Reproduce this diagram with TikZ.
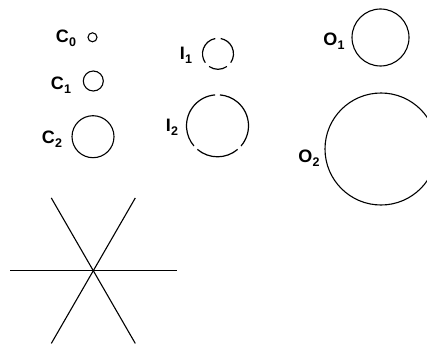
\documentclass[tikz,border=0pt]{standalone}
\usepackage{fontspec}
\setmainfont{Liberation Sans}
\usetikzlibrary{calc}
\begin{document}
\begin{tikzpicture}[x=1pt,y=1pt,
  ring/.style={draw,circle,inner sep=0pt,line width=1.1pt},
  lbl/.style={font=\bfseries\fontsize{18}{18}\selectfont,inner sep=0pt},
  arcline/.style={line width=1.2pt},
  starline/.style={line width=1.1pt}]
\useasboundingbox (0,0) rectangle (427,346);
\newcommand{\lab}[2]{#1\kern0.2pt\raisebox{-0.4ex}{\fontsize{12.5}{12.5}\selectfont #2}}
% C circles
\node[ring,minimum size=9pt] (c0) at (92.5,308.7) {};
\node[ring,minimum size=20pt] (c1) at (93.3,265) {};
\node[ring,minimum size=42pt] (c2) at (93,209.3) {};
\node[lbl] (lc0) at (66,308) {\lab{C}{0}};
\node[lbl] (lc1) at (61,261) {\lab{C}{1}};
\node[lbl] (lc2) at (52,207) {\lab{C}{2}};
% I circles (broken)
\coordinate (i1) at (218,292.2);
\coordinate (i2) at (217.5,220.2);
\foreach \a/\b in {100/215,235/305,325/440}{
  \draw[arcline] (i1) ++(\a:15.5) arc[start angle=\a,end angle=\b,radius=15.5];
}
\foreach \a/\b in {94.5/220.5,229.5/310.5,319.5/445.5}{
  \draw[arcline] (i2) ++(\a:31) arc[start angle=\a,end angle=\b,radius=31];
}
\node[lbl] (li1) at (186,290.5) {\lab{I}{1}};
\node[lbl] (li2) at (172,219) {\lab{I}{2}};
% O circles
\node[ring,minimum size=57pt] (o1) at (380.5,308.5) {};
\begin{scope}
\clip (0,0) rectangle (427,346);
\node[ring,minimum size=112pt] (o2) at (381,197) {};
\end{scope}
\node[lbl] (lo1) at (334,304.5) {\lab{O}{1}};
\node[lbl] (lo2) at (309,188) {\lab{O}{2}};
% star
\coordinate (s) at (93.3,75.3);
\coordinate (h1) at (10,75.3);
\coordinate (h2) at (176.7,75.3);
\coordinate (d1) at ($(s)+(60:84)$);
\coordinate (d2) at ($(s)+(240:84)$);
\coordinate (d3) at ($(s)+(120:84)$);
\coordinate (d4) at ($(s)+(300:84)$);
\draw[starline] (h1) -- (h2);
\draw[starline] (d1) -- (d2);
\draw[starline] (d3) -- (d4);
\end{tikzpicture}
\end{document}
